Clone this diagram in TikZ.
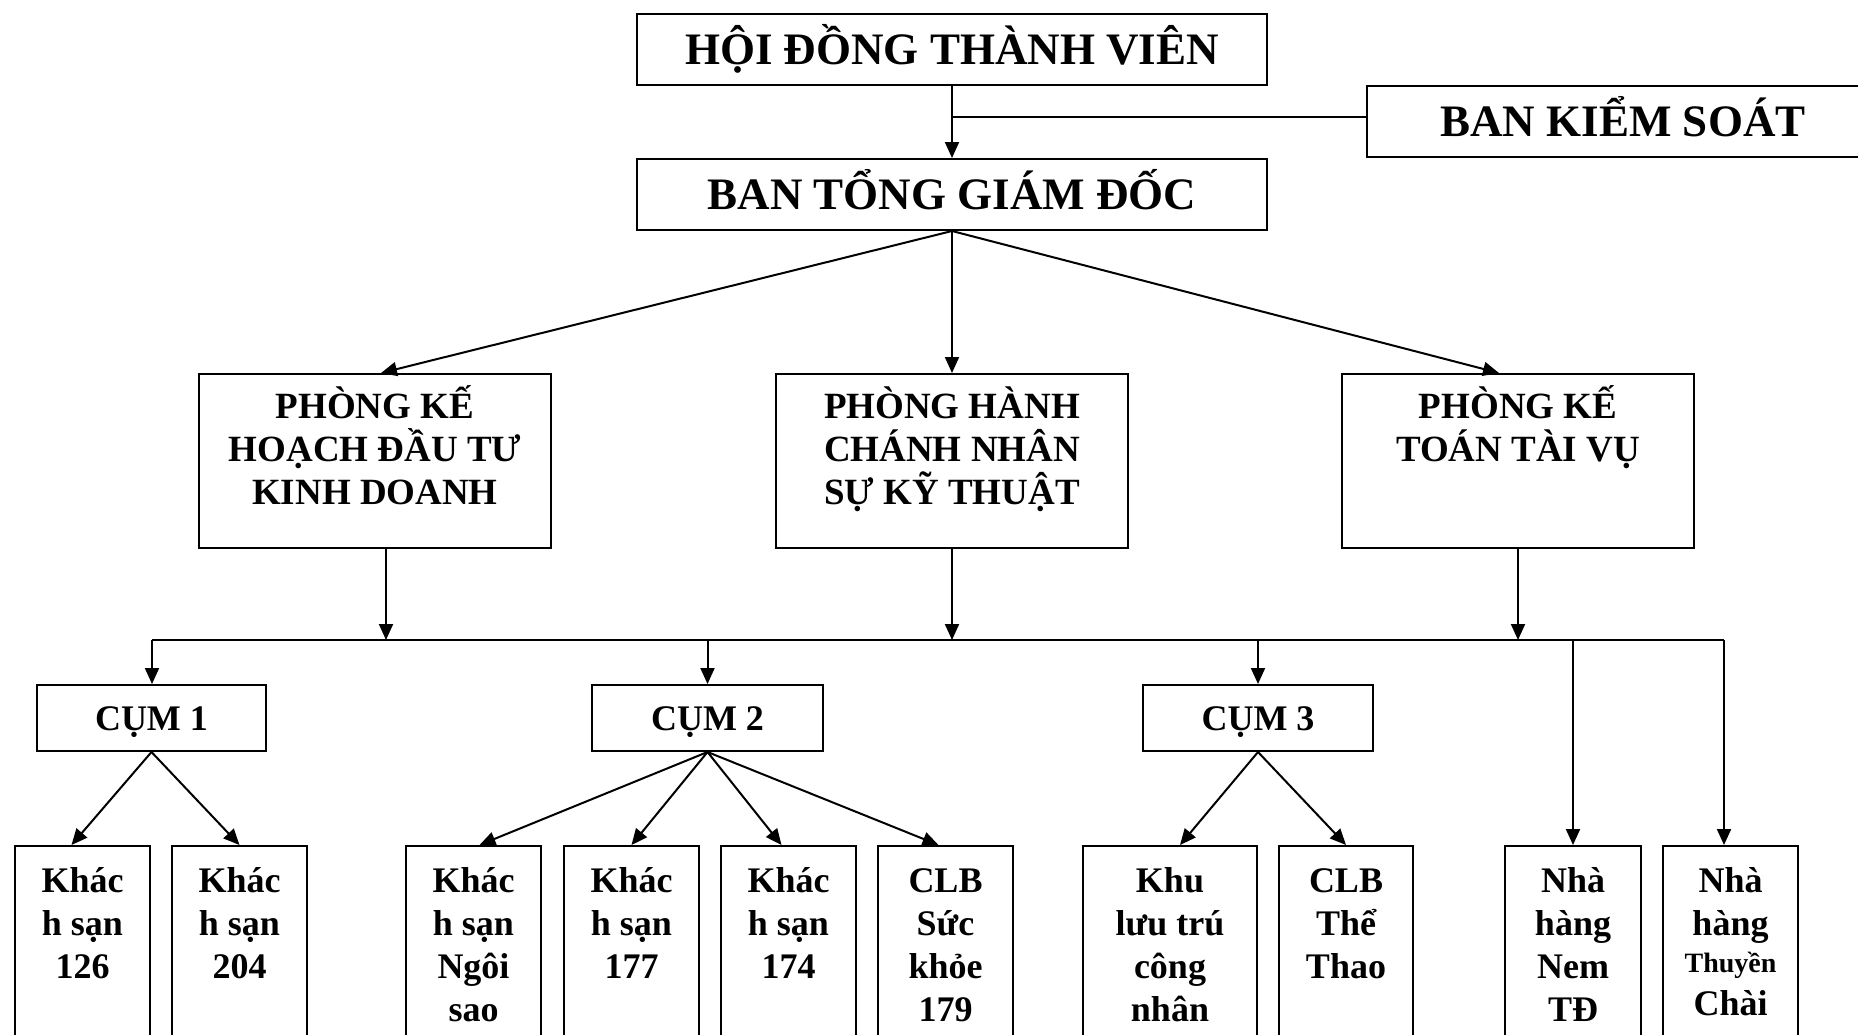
\documentclass[tikz,border=0pt]{standalone}
\usepackage{fontspec}
\setmainfont{Liberation Serif}
\usetikzlibrary{arrows.meta}
\begin{document}
\begin{tikzpicture}[x=1pt,y=-1pt,
  box/.style={draw, line width=2pt, inner sep=0pt, anchor=north west},
  arr/.style={line width=2pt, -{Triangle[length=16pt,width=14pt]}},
  ln/.style={line width=2pt},
  topt/.style={font=\bfseries\fontsize{45}{52}\selectfont, text height=30pt, text depth=0pt},
  cumt/.style={font=\bfseries\fontsize{36}{43}\selectfont, text height=24pt, text depth=0pt},
  rowt/.style={font=\bfseries\fontsize{37}{43}\selectfont, align=center, inner sep=0pt, anchor=north},
  bott/.style={font=\bfseries\fontsize{36}{43}\selectfont, align=center, inner sep=0pt, anchor=north}
]
\useasboundingbox[fill=white] (0,0) rectangle (1858,1034);

% top level
\node[box, topt, minimum width=630pt, minimum height=71pt] (hd) at (636,13) {HỘI ĐỒNG THÀNH VIÊN};
\node[box, topt, minimum width=512pt, minimum height=71pt] (bks) at (1366,85) {BAN KIỂM SOÁT};
\node[box, topt, minimum width=630pt, minimum height=71pt] (tgd) at (636,158) {BAN TỔNG GIÁM ĐỐC};

% departments
\node[box, minimum width=352pt, minimum height=174pt] (pk) at (198,373) {};
\node[rowt] (pkt) at ([yshift=-5pt]pk.north) {\rule{0pt}{40pt}PHÒNG KẾ\\HOẠCH ĐẦU TƯ\\KINH DOANH};
\node[box, minimum width=352pt, minimum height=174pt] (ph) at (775,373) {};
\node[rowt] (pht) at ([yshift=-5pt]ph.north) {\rule{0pt}{40pt}PHÒNG HÀNH\\CHÁNH NHÂN\\SỰ KỸ THUẬT};
\node[box, minimum width=352pt, minimum height=174pt] (pt) at (1341,373) {};
\node[rowt] (ptt) at ([yshift=-5pt]pt.north) {\rule{0pt}{40pt}PHÒNG KẾ\\TOÁN TÀI VỤ};

% clusters
\node[box, cumt, minimum width=229pt, minimum height=66pt] (c1) at (36,684) {CỤM 1};
\node[box, cumt, minimum width=231pt, minimum height=66pt] (c2) at (591,684) {CỤM 2};
\node[box, cumt, minimum width=230pt, minimum height=66pt] (c3) at (1142,684) {CỤM 3};

% units
\node[box, minimum width=135pt, minimum height=260pt] (b1) at (14,845) {};
\node[bott] (b1t) at ([yshift=-17pt]b1.north) {\rule{0pt}{30pt}Khác\\h sạn\\126};
\node[box, minimum width=135pt, minimum height=260pt] (b2) at (171,845) {};
\node[bott] (b2t) at ([yshift=-17pt]b2.north) {\rule{0pt}{30pt}Khác\\h sạn\\204};
\node[box, minimum width=135pt, minimum height=260pt] (b3) at (405,845) {};
\node[bott] (b3t) at ([yshift=-17pt]b3.north) {\rule{0pt}{30pt}Khác\\h sạn\\Ngôi\\sao};
\node[box, minimum width=135pt, minimum height=260pt] (b4) at (563,845) {};
\node[bott] (b4t) at ([yshift=-17pt]b4.north) {\rule{0pt}{30pt}Khác\\h sạn\\177};
\node[box, minimum width=135pt, minimum height=260pt] (b5) at (720,845) {};
\node[bott] (b5t) at ([yshift=-17pt]b5.north) {\rule{0pt}{30pt}Khác\\h sạn\\174};
\node[box, minimum width=135pt, minimum height=260pt] (b6) at (877,845) {};
\node[bott] (b6t) at ([yshift=-17pt]b6.north) {\rule{0pt}{30pt}CLB\\Sức\\khỏe\\179};
\node[box, minimum width=174pt, minimum height=260pt] (b7) at (1082,845) {};
\node[bott] (b7t) at ([yshift=-17pt]b7.north) {\rule{0pt}{30pt}Khu\\lưu trú\\công\\nhân};
\node[box, minimum width=134pt, minimum height=260pt] (b8) at (1278,845) {};
\node[bott] (b8t) at ([yshift=-17pt]b8.north) {\rule{0pt}{30pt}CLB\\Thể\\Thao};
\node[box, minimum width=136pt, minimum height=260pt] (b9) at (1504,845) {};
\node[bott] (b9t) at ([yshift=-17pt]b9.north) {\rule{0pt}{30pt}Nhà\\hàng\\Nem\\TĐ};
\node[box, minimum width=135pt, minimum height=260pt] (b10) at (1662,845) {};
\node[bott] (b10t) at ([yshift=-17pt]b10.north) {\rule{0pt}{30pt}Nhà\\hàng\\[-6pt]{\fontsize{28}{32}\selectfont Thuyền}\\Chài};

% connectors
\draw[arr] (hd.south) -- (tgd.north);
\coordinate (j) at (951,117);
\draw[ln] (j) -- (j -| bks.west);
\draw[arr] (tgd.south) -- ([xshift=6pt]pk.north);
\draw[arr] (tgd.south) -- (ph.north);
\draw[arr] (tgd.south) -- ([xshift=-19pt]pt.north);

\coordinate (busL) at (152,640);
\coordinate (busR) at (1724,640);
\draw[ln] (busL) -- (busR);
\draw[arr] ([xshift=11pt]pk.south) -- ([xshift=11pt]pk.south |- busL);
\draw[arr] (ph.south) -- (ph.south |- busL);
\draw[arr] (pt.south) -- (pt.south |- busL);

\draw[arr] (busL) -- (busL |- c1.north);
\draw[arr] (c2.north |- busL) -- (c2.north);
\draw[arr] (c3.north |- busL) -- (c3.north);
\draw[arr] (b9.north |- busL) -- (b9.north);
\draw[arr] (busR) -- (busR |- b10.north);

\draw[arr] (c1.south) -- ([xshift=-11pt]b1.north);
\draw[arr] (c1.south) -- (b2.north);
\draw[arr] (c2.south) -- ([xshift=6pt]b3.north);
\draw[arr] (c2.south) -- (b4.north);
\draw[arr] (c2.south) -- ([xshift=-7pt]b5.north);
\draw[arr] (c2.south) -- ([xshift=-7pt]b6.north);
\draw[arr] (c3.south) -- ([xshift=10pt]b7.north);
\draw[arr] (c3.south) -- (b8.north);
\end{tikzpicture}
\end{document}
